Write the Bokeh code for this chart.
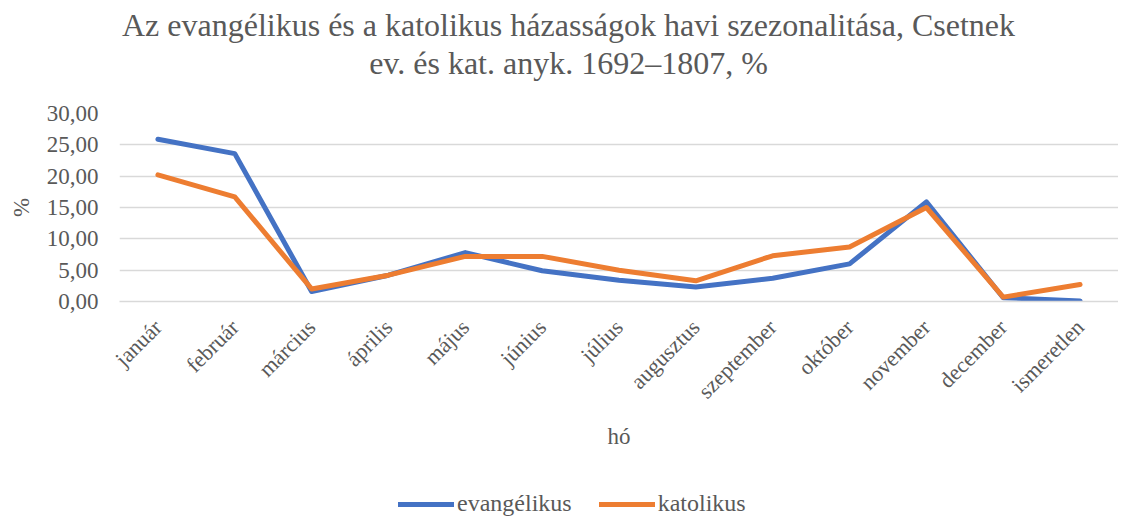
from math import pi
from bokeh.plotting import figure
from bokeh.layouts import column
from bokeh.models import Range1d, FixedTicker, Legend, LegendItem
from bokeh.core.properties import value
from bokeh.embed import file_html
from bokeh.resources import INLINE

months = ["január", "február", "március", "április", "május", "június", "július",
          "augusztus", "szeptember", "október", "november", "december", "ismeretlen"]
evangelikus = [25.9, 23.6, 1.6, 4.2, 7.8, 4.9, 3.4, 2.3, 3.7, 6.0, 15.9, 0.6, 0.1]
katolikus = [20.2, 16.7, 2.0, 4.2, 7.2, 7.2, 5.0, 3.3, 7.3, 8.7, 15.0, 0.7, 2.7]
y_ticks = [0, 5, 10, 15, 20, 25, 30]
series_names = ["evangélikus", "katolikus"]
series_colors = ["#4472C4", "#ED7D31"]

title_lines = ["Az evangélikus és a katolikus házasságok havi szezonalitása, Csetnek",
               "ev. és kat. anyk. 1692–1807, %"]

GREY = "#595959"
FONT = "Liberation Serif"
W = 1118
LEFT = 119


def strip(height):
    fig = figure(width=W, height=height, title=None,
                 x_range=Range1d(LEFT, W), y_range=Range1d(0, height),
                 output_backend="svg", toolbar_location=None,
                 min_border=0, min_border_left=LEFT, min_border_right=0,
                 min_border_top=0, min_border_bottom=0)
    fig.outline_line_color = None
    fig.axis.visible = False
    fig.grid.visible = False
    return fig


# ---- title strip ----
t = strip(100)
t.text(x=[568, 568], y=[76, 38], text=title_lines, text_align="center",
       text_baseline="alphabetic", text_font=value(FONT), text_font_size="32px",
       text_color=GREY)

# ---- main chart ----
p = figure(x_range=months, y_range=Range1d(0, 30), width=W, height=365, title=None,
           output_backend="svg", toolbar_location=None,
           min_border_left=LEFT, min_border_right=0, min_border_top=13,
           min_border_bottom=164)
p.outline_line_color = None

r1 = p.line(months, evangelikus, line_color=series_colors[0], line_width=5,
            line_join="round", line_cap="round")
r2 = p.line(months, katolikus, line_color=series_colors[1], line_width=5,
            line_join="round", line_cap="round")

p.yaxis.ticker = FixedTicker(ticks=y_ticks)
p.yaxis.major_label_overrides = {tk: f"{tk:.2f}".replace(".", ",") for tk in y_ticks}
p.yaxis.axis_line_color = None
p.yaxis.major_tick_line_color = None
p.yaxis.minor_tick_line_color = None
p.yaxis.major_label_text_font = FONT
p.yaxis.major_label_text_font_size = "23px"
p.yaxis.major_label_text_color = GREY
p.yaxis.major_label_standoff = 15
p.yaxis.axis_label = "%"
p.yaxis.axis_label_text_font = FONT
p.yaxis.axis_label_text_font_size = "23px"
p.yaxis.axis_label_text_font_style = "normal"
p.yaxis.axis_label_text_color = GREY
p.yaxis.axis_label_standoff = 10

p.xaxis.axis_line_color = "#d9d9d9"
p.xaxis.axis_line_width = 1.5
p.xaxis.major_tick_line_color = None
p.xaxis.minor_tick_line_color = None
p.xaxis.major_label_orientation = pi / 4
p.xaxis.major_label_text_font = FONT
p.xaxis.major_label_text_font_size = "22px"
p.xaxis.major_label_text_color = GREY
p.xaxis.major_label_standoff = 16
p.xaxis.axis_label = "hó"
p.xaxis.axis_label_text_font = FONT
p.xaxis.axis_label_text_font_size = "23px"
p.xaxis.axis_label_text_font_style = "normal"
p.xaxis.axis_label_text_color = GREY
p.xaxis.axis_label_standoff = 9

p.xgrid.grid_line_color = None
p.ygrid.grid_line_color = "#d9d9d9"
p.ygrid.grid_line_width = 1.5

# ---- legend strip ----
lg = strip(52)
items = []
for name, color in zip(series_names, series_colors):
    rr = lg.line([-50, -40], [-50, -40], line_color=color, line_width=5, line_cap="round")
    items.append(LegendItem(label=name, renderers=[rr]))
legend = Legend(items=items, orientation="horizontal", location=(398 - LEFT, 0),
                glyph_width=56, glyph_height=20, label_standoff=3, spacing=27,
                padding=0, margin=0, border_line_color=None, background_fill_alpha=0,
                label_text_font=FONT, label_text_font_size="24px", label_text_color=GREY)
lg.add_layout(legend, "center")

layout = column(t, p, lg, spacing=0)
open("out.html", "w").write(file_html(layout, INLINE))
